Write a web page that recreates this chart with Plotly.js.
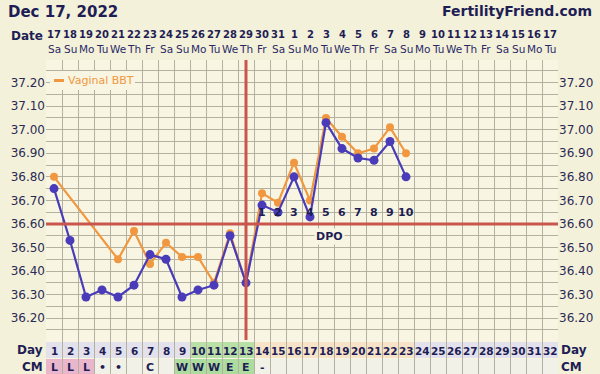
<!DOCTYPE html>
<html>
<head>
<meta charset="utf-8">
<script src="https://cdn.plot.ly/plotly-3.0.1.min.js"></script>
<style>html,body{margin:0;padding:0;background:#f4f1da;}#chart{width:600px;height:374px;}</style>
</head>
<body>
<div id="chart"></div>
<script>
// ---------- data ----------
const chartDate = "Dec 17, 2022";
const siteName = "FertilityFriend.com";
const cycleDays = [1,2,3,4,5,6,7,8,9,10,11,12,13,14,15,16,17,18,19,20,21,22,23,24,25,26,27,28,29,30,31,32];
const dateNums = ["17","18","19","20","21","22","23","24","25","26","27","28","29","30","31","1","2","3","4","5","6","7","8","9","10","11","12","13","14","15","16","17"];
const weekDays = ["Sa","Su","Mo","Tu","We","Th","Fr","Sa","Su","Mo","Tu","We","Th","Fr","Sa","Su","Mo","Tu","We","Th","Fr","Sa","Su","Mo","Tu","We","Th","Fr","Sa","Su","Mo","Tu"];
const tempDays = [1,2,3,4,5,6,7,8,9,10,11,12,13,14,15,16,17,18,19,20,21,22,23];
const bbt = [36.75,36.53,36.29,36.32,36.29,36.34,36.47,36.45,36.29,36.32,36.34,36.55,36.35,36.68,36.65,36.80,36.63,37.03,36.92,36.88,36.87,36.95,36.80];
const vaginalBbt = [36.80,null,null,null,36.45,36.57,36.43,36.52,36.46,36.46,36.35,36.56,36.35,36.73,36.69,36.86,36.70,37.05,36.97,36.90,36.92,37.01,36.90];
const cmCodes = ["L","L","L","•","•","","C","","W","W","W","E","E","-","","","","","","","","","","","","","","","","","",""];
const fertileDays = [10,11,12,13];
const ovulationDay = 13;
const coverline = 36.60;
const dpoDays = [14,15,16,17,18,19,20,21,22,23];
const dpoLabels = ["1","2","3","4","5","6","7","8","9","10"];
const yTickVals = [36.20,36.30,36.40,36.50,36.60,36.70,36.80,36.90,37.00,37.10,37.20];
const yTickLabels = ["36.20","36.30","36.40","36.50","36.60","36.70","36.80","36.90","37.00","37.10","37.20"];
const legendLabel = "Vaginal BBT";

// ---------- styles ----------
const NAVY = "#1e1e55";
const BLUE = "#4a3cb8";
const ORANGE = "#f0973f";
const RED = "#c9564c";
const GRID = "#b3b2a0";
const PLOT_BG = "#f8f6e2";
const PAPER_BG = "#f4f1da";
const FONT = "DejaVu Sans, Verdana, sans-serif";

const W = 600, H = 374, ML = 46, MR = 42, MT = 60, MB = 0;
const PW = W - ML - MR;
const yRange = [35.963, 37.296];
const plotH = H - MT - MB;
const py = p => (H - MB - p) / plotH; // pixel y -> paper y
const pxp = p => (p - ML) / PW;       // pixel x -> paper x
const px = p => 0.5 + (p - ML) / 16;  // pixel x -> data x

// grid tick values (every 0.05 inside the temperature area)
const gridVals = [], gridText = [];
for (let v = 36.15; v <= 37.2501; v += 0.05) {
  const r = Math.round(v * 100) / 100;
  gridVals.push(r);
  const idx = yTickVals.findIndex(t => Math.abs(t - r) < 1e-6);
  gridText.push(idx >= 0 ? yTickLabels[idx] : "");
}
const xGrid = [];
for (let i = 0; i <= cycleDays.length; i++) xGrid.push(i + 0.5);

// ---------- traces ----------
const traces = [
  {x: tempDays, y: vaginalBbt, mode: "lines+markers", connectgaps: true, name: legendLabel,
   line: {color: ORANGE, width: 2.2}, marker: {color: ORANGE, size: 8}, hoverinfo: "x+y"},
  {x: tempDays, y: bbt, mode: "lines+markers", name: "BBT",
   line: {color: BLUE, width: 2.2}, marker: {color: BLUE, size: 9}, hoverinfo: "x+y"}
];

// ---------- shapes ----------
const shapes = [];
const dayRowY = [py(358), py(342)];
const cmRowY = [py(374), py(359)];
cycleDays.forEach((d, i) => {
  let dayCol = "#e3e1ec";
  if (fertileDays.includes(d)) dayCol = "#b9e0a6";
  else if (dpoDays.includes(d)) dayCol = "#f7e3c8";
  shapes.push({type: "rect", layer: "below", xref: "x", yref: "paper", x0: d - 0.5, x1: d + 0.5, y0: dayRowY[0], y1: dayRowY[1], fillcolor: dayCol, line: {width: 0}});
  const c = cmCodes[i];
  let cmCol = "#f2f1e8";
  if (c === "L") cmCol = "#e9b6cc";
  else if (c === "W" || c === "E") cmCol = "#addc9f";
  shapes.push({type: "rect", layer: "below", xref: "x", yref: "paper", x0: d - 0.5, x1: d + 0.5, y0: cmRowY[0], y1: cmRowY[1], fillcolor: cmCol, line: {width: 0}});
});
shapes.push({type: "line", xref: "paper", yref: "y", x0: 0, x1: 1, y0: coverline, y1: coverline, line: {color: RED, width: 3}});
shapes.push({type: "line", xref: "x", yref: "paper", x0: ovulationDay, x1: ovulationDay, y0: py(340), y1: 1, line: {color: RED, width: 3}});
shapes.push({type: "rect", xref: "x", yref: "paper", x0: px(50), x1: px(135), y0: py(90), y1: py(71), fillcolor: PLOT_BG, line: {width: 0}});
shapes.push({type: "line", xref: "x", yref: "paper", x0: px(54), x1: px(64), y0: py(80.5), y1: py(80.5), line: {color: ORANGE, width: 3}});

// ---------- annotations ----------
const ann = [];
const txt = (text, x, y, xanchor, size, color, xref, yref, extra) => Object.assign({
  text: text, x: x, y: y, xref: xref || "paper", yref: yref || "paper", xanchor: xanchor, yanchor: "middle",
  showarrow: false, font: {family: FONT, size: size, color: color || NAVY}}, extra || {});
ann.push(txt("<b>" + chartDate + "</b>", pxp(6), py(12), "left", 15));
ann.push(txt("<b>" + siteName + "</b>", pxp(594), py(11), "right", 14));
ann.push(txt("<b>Date</b>", pxp(45), py(36), "right", 12));
ann.push(txt(legendLabel, px(66), py(80.5), "left", 11, ORANGE, "x"));
[["Day", 350], ["CM", 366.5]].forEach(([t, yy]) => {
  ann.push(txt("<b>" + t + "</b>", pxp(45), py(yy), "right", 12));
  ann.push(txt("<b>" + t + "</b>", pxp(559), py(yy), "left", 12));
});
cycleDays.forEach((d, i) => {
  ann.push(txt("<b>" + dateNums[i] + "</b>", d, py(35), "center", 10, NAVY, "x"));
  ann.push(txt(weekDays[i], d, py(49), "center", 10.5, "#2a2a66", "x"));
  ann.push(txt("<b>" + d + "</b>", d, py(350.5), "center", 10.5, NAVY, "x"));
  if (cmCodes[i]) ann.push(txt("<b>" + cmCodes[i] + "</b>", d, py(367), "center", 11, NAVY, "x"));
});
dpoDays.forEach((d, i) => {
  ann.push(txt("<b>" + dpoLabels[i] + "</b>", d, coverline, "center", 11, NAVY, "x", "y", {yshift: 11}));
});
ann.push(txt("<b>DPO</b>", px(329), coverline, "center", 11, NAVY, "x", "y", {yshift: -13, bgcolor: PLOT_BG, borderpad: 1}));

const layout = {
  width: W, height: H,
  margin: {l: ML, r: MR, t: MT, b: MB, pad: 0},
  paper_bgcolor: PAPER_BG, plot_bgcolor: PLOT_BG,
  showlegend: false,
  font: {family: FONT, color: NAVY},
  xaxis: {range: [0.5, 32.5], tickvals: xGrid, showticklabels: false, ticks: "", showgrid: true, gridcolor: GRID, gridwidth: 1, zeroline: false, showline: false, fixedrange: true},
  yaxis: {range: yRange, tickvals: gridVals, ticktext: gridText, ticks: "", showgrid: true, gridcolor: GRID, gridwidth: 1, zeroline: false, showline: false,
    tickfont: {family: FONT, size: 12, color: "#2a2a55"}},
  yaxis2: {range: yRange, overlaying: "y", side: "right", tickvals: yTickVals, ticktext: yTickLabels, ticks: "", showgrid: false, zeroline: false, showline: false,
    tickfont: {family: FONT, size: 12, color: "#2a2a55"}},
  shapes: shapes,
  annotations: ann
};
traces.push({x: [1], y: [null], yaxis: "y2", mode: "none", showlegend: false, hoverinfo: "skip"});
Plotly.newPlot("chart", traces, layout, {displayModeBar: false, staticPlot: true});
</script>
</body>
</html>
